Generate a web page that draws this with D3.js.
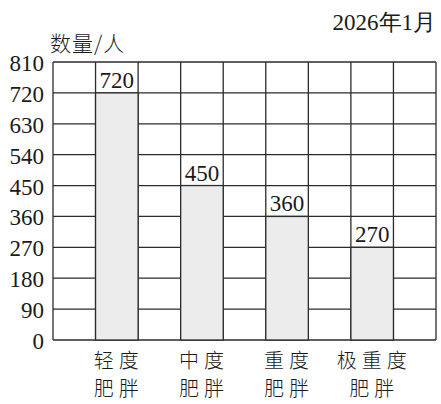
<!DOCTYPE html>
<html>
<head>
<meta charset="utf-8">
<script src="https://cdn.jsdelivr.net/npm/d3@7"></script>
<style>
body { margin:0; background:#fff; }
</style>
</head>
<body>
<div id="chart"></div>
<script>
// data
var categories = ["轻度肥胖", "中度肥胖", "重度肥胖", "极重度肥胖"],
	catLine1 = ["轻度", "中度", "重度", "极重度"],
	catLine2 = ["肥胖", "肥胖", "肥胖", "肥胖"],
	values = [720, 450, 360, 270],
	yTicks = [0, 90, 180, 270, 360, 450, 540, 630, 720, 810];

(function(){

var width = 441, height = 404,
	x0 = 53, x1 = 436, y0 = 62, y1 = 340,
	ncols = 9,
	ink = "#2b2b2b",
	textcolor = "#1a1a1a",
	barcolor = "#ececec",
	serif = "'Liberation Serif','DejaVu Serif',serif",
	cjk = "'Noto Sans CJK SC','Noto Sans CJK JP',sans-serif";

var svg = d3.select("#chart").append("svg")
	.attr("width", width)
	.attr("height", height);

// scales
var Y = d3.scaleLinear().domain([0, 810]).range([y1, y0]);
var C = d3.scaleLinear().domain([0, ncols]).range([x0, x1]);
// each category sits in an odd grid column, so the band holds two columns
var X = d3.scaleBand().domain(categories).range([C(1), C(9)]);
var bw = C(1) - C(0);

// horizontal grid lines
svg.selectAll(".hgrid").data(yTicks).enter().append("line")
	.attr("x1", x0).attr("x2", x1)
	.attr("y1", function(d){ return Y(d) }).attr("y2", function(d){ return Y(d) })
	.style("stroke", ink).style("stroke-width", 1.3);

// vertical grid lines
svg.selectAll(".vgrid").data(d3.range(ncols + 1)).enter().append("line")
	.attr("x1", function(d){ return C(d) }).attr("x2", function(d){ return C(d) })
	.attr("y1", y0).attr("y2", y1)
	.style("stroke", ink).style("stroke-width", 1.3);

// bars
svg.selectAll(".bar").data(values).enter().append("rect")
	.attr("x", function(d,i){ return X(categories[i]) })
	.attr("y", function(d){ return Y(d) })
	.attr("width", bw)
	.attr("height", function(d){ return y1 - Y(d) })
	.style("fill", barcolor)
	.style("stroke", ink).style("stroke-width", 1.3);

// value labels
svg.selectAll(".val").data(values).enter().append("text")
	.attr("x", function(d,i){ return X(categories[i]) + bw / 2 })
	.attr("y", function(d){ return Y(d) - 5 })
	.attr("text-anchor", "middle")
	.style("font-family", serif).style("font-size", "23px").style("fill", textcolor)
	.text(function(d){ return d });

// y tick labels
svg.selectAll(".ytick").data(yTicks).enter().append("text")
	.attr("x", 44)
	.attr("y", function(d){ return Y(d) + 9 })
	.attr("text-anchor", "end")
	.style("font-family", serif).style("font-size", "23px").style("fill", textcolor)
	.text(function(d){ return d });

// category labels, two lines
svg.selectAll(".cat1").data(catLine1).enter().append("text")
	.attr("x", function(d,i){ return X(categories[i]) + bw / 2 + 2 })
	.attr("y", 368)
	.attr("text-anchor", "middle")
	.style("font-family", cjk).style("font-size", "20px").style("font-weight", 300)
	.style("letter-spacing", "5px").style("fill", textcolor)
	.text(function(d){ return d });

svg.selectAll(".cat2").data(catLine2).enter().append("text")
	.attr("x", function(d,i){ return X(categories[i]) + bw / 2 + 2 })
	.attr("y", 396)
	.attr("text-anchor", "middle")
	.style("font-family", cjk).style("font-size", "20px").style("font-weight", 300)
	.style("letter-spacing", "5px").style("fill", textcolor)
	.text(function(d){ return d });

// axis title and date
svg.append("text")
	.attr("x", 50).attr("y", 51)
	.style("font-family", cjk).style("font-size", "21px").style("font-weight", 300)
	.style("letter-spacing", "1px").style("fill", textcolor)
	.text("数量/人");

svg.append("text")
	.attr("x", 436).attr("y", 30)
	.attr("text-anchor", "end")
	.style("font-family", serif).style("font-size", "23px").style("fill", textcolor)
	.text("2026年1月");

})()
</script>
</body>
</html>
